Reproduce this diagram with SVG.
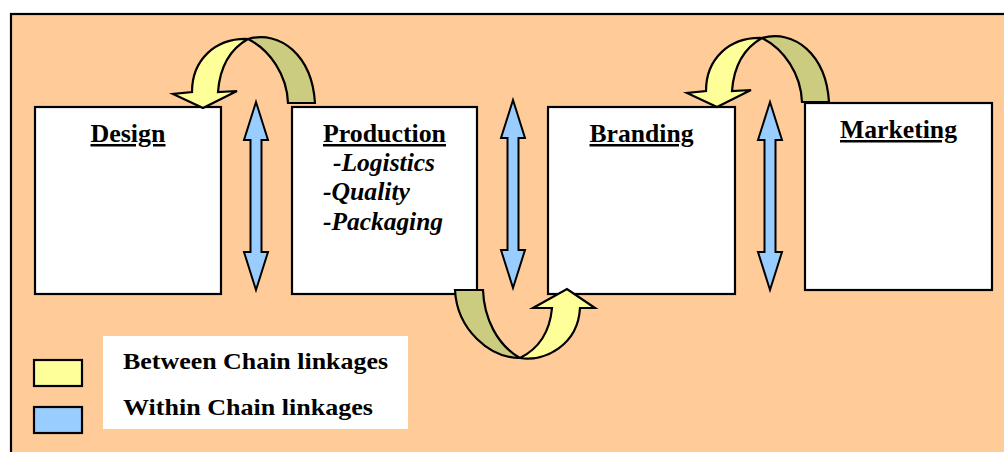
<svg xmlns="http://www.w3.org/2000/svg" xmlns:xlink="http://www.w3.org/1999/xlink" width="1004" height="452" viewBox="0 0 1004 452">
  <style>
    .box { fill: #FFFFFF; stroke: #000000; stroke-width: 2.2; }
    .title { font-family: "Liberation Serif", "Times New Roman", serif; font-weight: bold; font-size: 25px; text-anchor: middle; text-decoration: underline; fill: #000000; }
    .item { font-family: "Liberation Serif", "Times New Roman", serif; font-weight: bold; font-style: italic; font-size: 25px; fill: #000000; }
    .legend { font-family: "Liberation Serif", "Times New Roman", serif; font-weight: bold; font-size: 23px; fill: #000000; }
    .front { fill: #FFFF99; stroke: #000000; stroke-width: 2.2; stroke-linejoin: miter; }
    .back { fill: #CCCC80; stroke: #000000; stroke-width: 2.2; stroke-linejoin: miter; }
    .within { fill: #99CCFF; stroke: #000000; stroke-width: 2; stroke-linejoin: miter; }
  </style>
  <defs>
    <!-- vertical double-headed arrow, centred on x = 0 -->
    <path id="dbl" class="within" d="M0,102 L12,140 L5.5,140 L5.5,252 L12,252 L0,290 L-12,252 L-5.5,252 L-5.5,140 L-12,140 Z"/>
    <!-- curved arrow looping over the top, pointing down-left -->
    <g id="overArrow">
      <path class="back" d="M248,39 C280,30 312,55 315,103 L288,103 C287,75 270,50 248,39 Z"/>
      <path class="front" d="M248,39 C215,38 192,60 192,92 L173,94 L203,108 L237,91 L218,92 C220,65 232,48 248,39 Z"/>
    </g>
  </defs>

  <!-- background panel -->
  <rect x="11" y="14" width="1100" height="500" fill="#FFCC99" stroke="#000000" stroke-width="2.2"/>

  <g id="design">
    <rect class="box" x="35" y="107" width="186" height="187"/>
    <text class="title" x="128" y="142" textLength="75" lengthAdjust="spacingAndGlyphs">Design</text>
  </g>

  <g id="production">
    <rect class="box" x="292" y="107" width="185" height="187"/>
    <text class="title" x="384.5" y="142" textLength="123" lengthAdjust="spacingAndGlyphs">Production</text>
    <text class="item" x="333" y="171" textLength="102" lengthAdjust="spacingAndGlyphs">-Logistics</text>
    <text class="item" x="323" y="200" textLength="87" lengthAdjust="spacingAndGlyphs">-Quality</text>
    <text class="item" x="323" y="230" textLength="120" lengthAdjust="spacingAndGlyphs">-Packaging</text>
  </g>

  <g id="branding">
    <rect class="box" x="548" y="107" width="187" height="187"/>
    <text class="title" x="641.5" y="142" textLength="104" lengthAdjust="spacingAndGlyphs">Branding</text>
  </g>

  <g id="marketing">
    <rect class="box" x="805" y="103" width="187" height="187"/>
    <text class="title" x="898.5" y="138" textLength="117" lengthAdjust="spacingAndGlyphs">Marketing</text>
  </g>

  <g id="connectors">
    <!-- within-chain links -->
    <use xlink:href="#dbl" x="256" y="0"/>
    <use xlink:href="#dbl" x="513" y="-2"/>
    <use xlink:href="#dbl" x="770" y="0"/>
    <!-- between-chain links -->
    <use xlink:href="#overArrow"/>
    <use xlink:href="#overArrow" x="514" y="-1"/>
    <path class="back" d="M455,290 L483,290 C484,318 497,345 520,358 C490,358 457,330 455,290 Z"/>
    <path class="front" d="M520,358 C545,362 578,345 580,308 L595,308 L567,289 L533,308 L552,308 C550,330 540,348 520,358 Z"/>
  </g>

  <g id="legend">
    <rect x="103" y="336" width="305" height="93" fill="#FFFFFF"/>
    <rect x="34" y="360" width="48" height="26" fill="#FFFF99" stroke="#000000" stroke-width="2.2"/>
    <rect x="34" y="407" width="48" height="26" fill="#99CCFF" stroke="#000000" stroke-width="2.2"/>
    <text class="legend" x="123" y="369" textLength="265" lengthAdjust="spacingAndGlyphs">Between Chain linkages</text>
    <text class="legend" x="123" y="415" textLength="250" lengthAdjust="spacingAndGlyphs">Within Chain linkages</text>
  </g>
</svg>
